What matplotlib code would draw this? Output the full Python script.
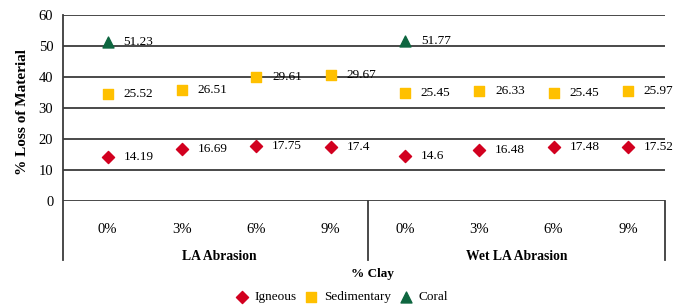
import matplotlib.pyplot as plt
import numpy as np

plt.rcParams['font.family'] = ['Liberation Serif', 'DejaVu Serif']
plt.rcParams['font.size'] = 9.5

# Data
clay = ['0%', '3%', '6%', '9%', '0%', '3%', '6%', '9%']
groups = ['LA Abrasion', 'Wet LA Abrasion']
igneous = [14.19, 16.69, 17.75, 17.4, 14.6, 16.48, 17.48, 17.52]
# sedimentary markers sit higher than their labels in the original chart
sedimentary_pos = [34.6, 35.8, 39.9, 40.7, 35.0, 35.6, 35.0, 35.4]
sedimentary_lbl = [25.52, 26.51, 29.61, 29.67, 25.45, 26.33, 25.45, 25.97]
coral_idx = [0, 4]
coral = [51.23, 51.77]

W, H = 679, 306
fig = plt.figure(figsize=(W / 100, H / 100), dpi=100)
ax = fig.add_axes([63 / W, 1 - 201 / H, (665 - 63) / W, (201 - 15) / H])

x = np.arange(len(clay))
ax.scatter(x, igneous, marker='D', s=38, color='#D2001F', zorder=3, label='Igneous')
ax.scatter(x, sedimentary_pos, marker='s', s=62, color='#FFC000', zorder=3, label='Sedimentary')
ax.scatter(coral_idx, coral, marker='^', s=62, color='#0E6640', zorder=3, label='Coral')

# data labels
off = (11.5, 0)
for xi, v in zip(x, igneous):
    ax.annotate(f'{v:g}', (xi, v), xytext=off, textcoords='offset points', va='center', ha='left')
for xi, yp, v in zip(x, sedimentary_pos, sedimentary_lbl):
    ax.annotate(f'{v:g}', (xi, yp), xytext=off, textcoords='offset points', va='center', ha='left')
for xi, v in zip(coral_idx, coral):
    ax.annotate(f'{v:g}', (xi, v), xytext=off, textcoords='offset points', va='center', ha='left')

ax.set_xlim(-0.6, 7.5)
ax.set_ylim(0, 60)
ax.set_yticks(range(0, 61, 10))
ax.yaxis.grid(True, color='#3a3a3a', linewidth=1.3)
ax.set_axisbelow(True)
for s in ['top', 'right', 'bottom', 'left']:
    ax.spines[s].set_visible(False)
ax.tick_params(axis='y', length=0, pad=7, labelsize=10.5)
ax.tick_params(axis='x', length=0, pad=16, labelsize=10.5)
ax.set_xticks(x)
ax.set_xticklabels(clay)

# category separators below the axis
tr = ax.get_xaxis_transform()
ax.plot([-0.6, -0.6], [-0.317, 1.0], transform=tr, color='#3a3a3a', lw=1.3, clip_on=False)
ax.plot([3.5, 3.5], [-0.317, 0.0], transform=tr, color='#3a3a3a', lw=1.3, clip_on=False)
ax.plot([7.5, 7.5], [-0.317, 0.0], transform=tr, color='#3a3a3a', lw=1.3, clip_on=False)

ax.text(1.5, -0.296, groups[0], transform=tr, ha='center', va='center', fontweight='bold', fontsize=9.8)
ax.text(5.5, -0.296, groups[1], transform=tr, ha='center', va='center', fontweight='bold', fontsize=9.8)

fig.text(372 / W, 1 - 274 / H, '% Clay', ha='center', va='center', fontweight='bold')
fig.text(22 / W, 1 - 112 / H, '% Loss of Material', rotation=90, ha='center', va='center',
         fontweight='bold', fontsize=11)

fig.legend(loc='center', bbox_to_anchor=(340 / W, 1 - 297 / H), ncol=3, frameon=False,
           handletextpad=0.2, columnspacing=0.4, handlelength=1.5, borderaxespad=0)

fig.savefig('out.png', dpi=100)
